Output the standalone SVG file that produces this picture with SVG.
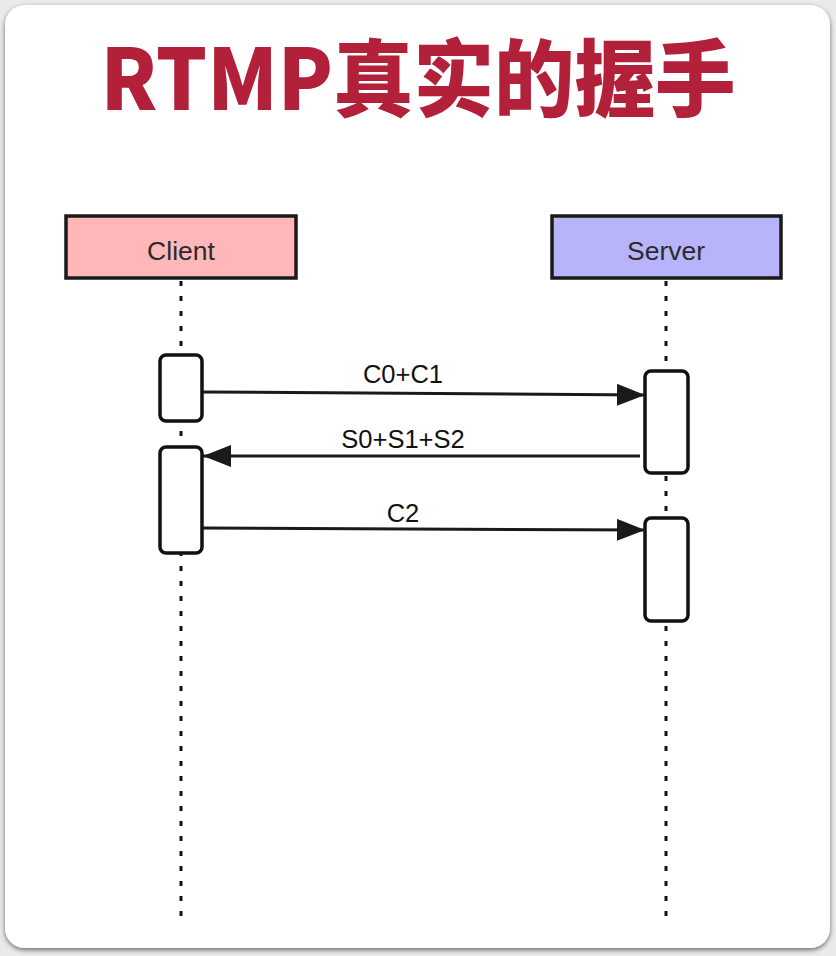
<svg xmlns="http://www.w3.org/2000/svg" width="836" height="956" viewBox="0 0 836 956">
<defs>
<marker id="ah" viewBox="0 0 28 22" refX="28" refY="11" markerWidth="28" markerHeight="22" markerUnits="userSpaceOnUse" orient="auto">
<path d="M0,0 L28,11 L0,22 Z" fill="#1a1a1a"/>
</marker>
<filter id="sh" x="-5%" y="-5%" width="110%" height="110%">
<feGaussianBlur in="SourceAlpha" stdDeviation="2.5"/>
<feOffset dx="0" dy="1.5"/>
<feComponentTransfer><feFuncA type="linear" slope="0.55"/></feComponentTransfer>
<feMerge><feMergeNode/><feMergeNode in="SourceGraphic"/></feMerge>
</filter>
</defs>
<style>
.head{stroke:#1a1a1a;stroke-width:3.5}
.htxt{font-family:"Liberation Sans",Arial,sans-serif;font-size:26.5px;fill:#2a2a2a;text-anchor:middle}
.life{stroke:#111;stroke-width:3;stroke-dasharray:5 10;fill:none}
.act{fill:#fff;stroke:#111;stroke-width:3.5}
.msg{stroke:#1a1a1a;stroke-width:3;fill:none;marker-end:url(#ah)}
.lbl{font-family:"Liberation Sans",Arial,sans-serif;font-size:25.5px;fill:#111;text-anchor:middle}
</style>
<rect width="836" height="956" fill="#eaeaea"/>
<rect x="5" y="5" width="825" height="943" rx="20" fill="#fff" filter="url(#sh)"/>
<text x="418" y="110" font-family="'Noto Sans CJK SC','Noto Sans',sans-serif" font-weight="900" font-size="84" fill="#b3203a" text-anchor="middle" textLength="635" lengthAdjust="spacingAndGlyphs">RTMP真实的握手</text>

<g id="lifelines">
<line class="life" x1="181" y1="281" x2="181" y2="922"/>
<line class="life" x1="666" y1="281" x2="666" y2="922"/>
</g>

<g id="client">
<rect class="head" x="66" y="216" width="230" height="62" fill="#ffb7ba"/>
<text class="htxt" x="181" y="260">Client</text>
</g>
<g id="server">
<rect class="head" x="552" y="216" width="229" height="62" fill="#b8b4fb"/>
<text class="htxt" x="666" y="260">Server</text>
</g>

<g id="client-act1"><rect class="act" x="160" y="355" width="42" height="66" rx="6"/></g>
<g id="client-act2"><rect class="act" x="160" y="447" width="42" height="106" rx="6"/></g>
<g id="server-act1"><rect class="act" x="645" y="371" width="43" height="102" rx="6"/></g>
<g id="server-act2"><rect class="act" x="645" y="518" width="43" height="103" rx="6"/></g>

<g id="connectors">
<line class="msg" x1="203" y1="392" x2="645" y2="395"/>
<line class="msg" x1="640" y1="456" x2="203" y2="456"/>
<line class="msg" x1="202" y1="528" x2="645" y2="530"/>
</g>
<g id="labels">
<text class="lbl" x="403" y="383">C0+C1</text>
<text class="lbl" x="403" y="448">S0+S1+S2</text>
<text class="lbl" x="403" y="522">C2</text>
</g>
</svg>
